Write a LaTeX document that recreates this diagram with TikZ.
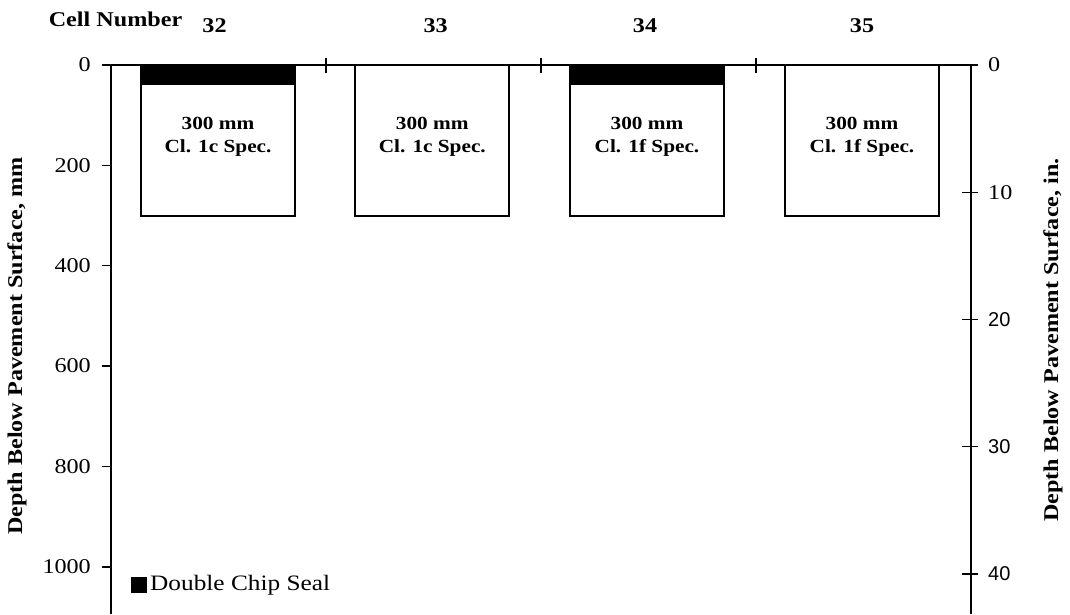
\documentclass[tikz,border=0pt]{standalone}
\usepackage{fontspec}
\setmainfont{Liberation Serif}[FakeStretch=1.15]
\newfontfamily\sansx{Liberation Sans}
\tikzset{
  ax/.style={line width=1.8pt},
  tick/.style={line width=1.4pt},
  cellbox/.style={draw, line width=1.8pt, fill=white, minimum width=154pt, minimum height=150.6pt, inner sep=0pt, outer sep=0pt},
  seal/.style={fill=black},
  boxtxt/.style={font=\fontsize{18.5}{23}\selectfont\bfseries, align=center, inner sep=0pt},
  celllab/.style={font=\fontsize{21}{24}\selectfont\bfseries, inner sep=0pt},
  ticklab/.style={font=\fontsize{21}{24}\selectfont, inner sep=0pt},
  sticklab/.style={font=\fontsize{20}{24}\sansx, inner sep=0pt},
  axlab/.style={font=\fontsize{21}{24}\selectfont\bfseries, rotate=90, inner sep=0pt},
}
\begin{document}
\begin{tikzpicture}[x=1pt, y=-1pt]
\useasboundingbox (0,0) rectangle (1070,614);
% axis corners
\coordinate (tl) at (111,65);
\coordinate (tr) at (970.7,65);
\coordinate (bl) at (111,614);
\coordinate (br) at (970.7,614);
% boxes
\foreach \n/\x in {32/218, 33/432.3, 34/647, 35/862}{
  \node[cellbox] (b\n) at (\x,140.3) {};
}
\fill[seal] (b32.north west) rectangle ([yshift=-20pt]b32.north east);
\fill[seal] (b34.north west) rectangle ([yshift=-20pt]b34.north east);
% axes
\draw[ax] ([xshift=-9pt]tl) -- ([xshift=7pt]tr);
\draw[ax] (tl) -- (bl);
\draw[ax] (tr) -- (br);
% top category ticks
\foreach \x in {326, 541, 756}{
  \draw[tick] (\x,58) -- (\x,73);
}
% left ticks and labels
\foreach \v/\y in {0/65, 200/165.4, 400/265.7, 600/366, 800/466.4, 1000/566.8}{
  \draw[tick] (102,\y) -- (111,\y);
  \node[ticklab, anchor=east] (l\v) at (91,\y) {\v};
}
% right ticks and labels
\foreach \v/\y in {0/65, 10/192.2}{
  \draw[tick] (962,\y) -- (978,\y);
  \node[ticklab, anchor=west] (r\v) at (988,\y) {\v};
}
\foreach \v/\y in {20/319.4, 30/446.6, 40/573.8}{
  \draw[tick] (962,\y) -- (978,\y);
  \node[sticklab, anchor=west] (r\v) at (988,\y) {\v};
}
% box texts
\node[boxtxt] (t32) at (218,136.5) {300 mm\\Cl. 1c Spec.};
\node[boxtxt] (t33) at (432.3,136.5) {300 mm\\Cl. 1c Spec.};
\node[boxtxt] (t34) at (647,136.5) {300 mm\\Cl. 1f Spec.};
\node[boxtxt] (t35) at (862,136.5) {300 mm\\Cl. 1f Spec.};
% cell numbers
\node[celllab] (cn) at (115.5,19) {Cell Number};
\node[celllab] (c32) at (214.5,26) {32};
\node[celllab] (c33) at (435.6,26) {33};
\node[celllab] (c34) at (645,26) {34};
\node[celllab] (c35) at (862,26) {35};
% axis labels
\node[axlab] (yl) at (17,346) {Depth Below Pavement Surface, mm};
\node[axlab] (yr) at (1053,340) {Depth Below Pavement Surface, in.};
% legend
\node[fill=black, minimum size=16pt, inner sep=0pt] (lgsq) at (139,585) {};
\node[font=\fontsize{22}{26}\selectfont, anchor=west, inner sep=0pt] (lgtxt) at (150,585) {Double Chip Seal};
\end{tikzpicture}
\end{document}
